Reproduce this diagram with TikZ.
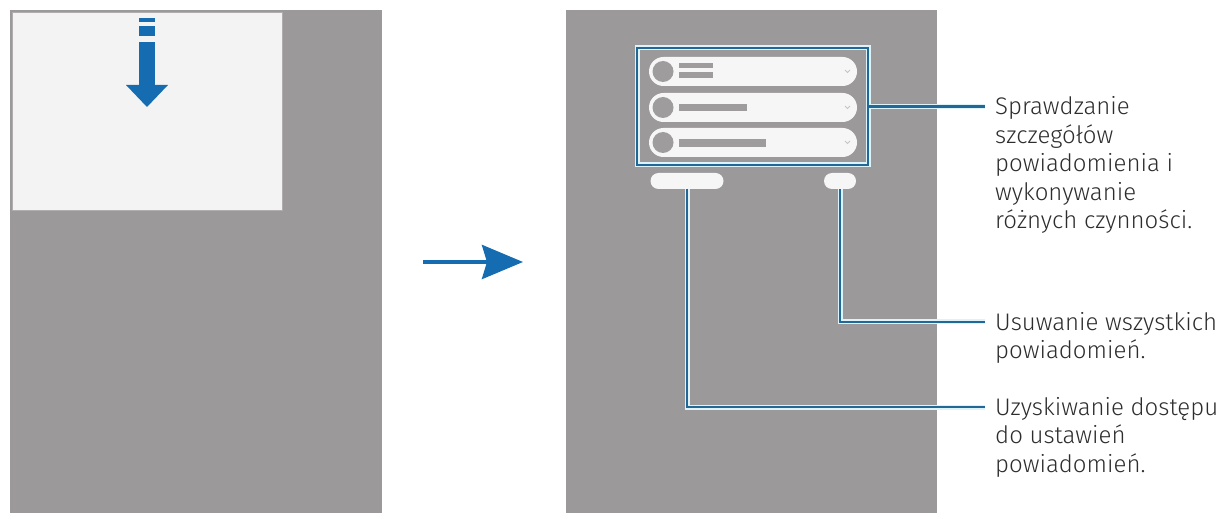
\documentclass[tikz,border=0pt]{standalone}
\usepackage{fontspec}
\setmainfont{Fira Sans Light}
\usetikzlibrary{arrows.meta}

\definecolor{screengray}{RGB}{155,153,153}
\definecolor{panelwhite}{RGB}{243,243,244}
\definecolor{pillwhite}{RGB}{246,246,246}
\definecolor{samblue}{RGB}{22,108,176}
\definecolor{linkblue}{RGB}{34,104,150}
\definecolor{halo}{RGB}{222,242,250}
\definecolor{dotgray}{RGB}{158,156,156}
\definecolor{notegray}{RGB}{45,45,45}

\begin{document}
\begin{tikzpicture}[x=1pt,y=-1pt,
    screen/.style={fill=screengray,inner sep=0pt,anchor=north west},
    pill/.style={fill=pillwhite,inner sep=0pt,rounded corners=#1},
    callout/.style={draw=halo,double=linkblue,double distance=2.4pt,line width=1.3pt},
    note/.style={anchor=north west,align=left,inner sep=0pt,text=notegray,
                 font=\fontsize{24}{28.5}\selectfont}]
   \useasboundingbox (0,0) rectangle (1229,521);

   % left screen, panel pulled down
   \node[screen,minimum width=372pt,minimum height=503pt] (scrA) at (10,10) {};
   \node[screen,fill=panelwhite,draw=screengray!80,minimum width=270pt,minimum height=198pt] (panel) at (12,12) {};
   \fill[samblue] (139,18) rectangle (155,22);
   \fill[samblue] (139,26) rectangle (155,36);
   \fill[samblue] (139,42) rectangle (155,86);
   \fill[samblue] (126,85) -- (168,85) -- (147,107) -- cycle;

   % step arrow
   \coordinate (goA) at (423,262);
   \coordinate (goB) at (523,262);
   \draw[samblue,line width=4pt,-{Stealth[length=41pt,width=34pt,inset=5pt]}] (goA) -- (goB);

   % right screen, notification panel
   \node[screen,minimum width=371pt,minimum height=503pt] (scrB) at (566,10) {};
   \node[callout,minimum width=231pt,minimum height=117pt,inner sep=0pt] (notif) at (752.5,106.5) {};
   \foreach \i/\y in {1/71.5,2/107.5,3/142.5}
    {
     \node[pill=14.5pt,minimum width=208pt,minimum height=29pt] (item\i) at (753,\y) {};
     \fill[dotgray] (663,\y) circle (10.5pt);
     \draw[pillwhite!80!black,line width=0.8pt] (845,\y-1.5) -- (847.5,\y+1) -- (850,\y-1.5);
    }
   \fill[dotgray] (679,63) rectangle (713,68);
   \fill[dotgray] (679,72) rectangle (713,78);
   \fill[dotgray] (679,104) rectangle (747,111);
   \fill[dotgray] (679,139.5) rectangle (766,147);

   \node[pill=8pt,minimum width=73pt,minimum height=16pt] (btnSet) at (687,181) {};
   \node[pill=8pt,minimum width=32pt,minimum height=16pt] (btnClr) at (840,181) {};

   % callouts
   \coordinate (tipNote) at (985,106.5);
   \coordinate (tipClr) at (985,322);
   \coordinate (tipSet) at (985,407);
   \draw[callout] (notif.east) -- (tipNote);
   \draw[callout] (btnClr.south) |- (tipClr);
   \draw[callout] (btnSet.south) |- (tipSet);

   \node[note] (noteA) at (995,96.5) {Sprawdzanie\\szczegółów\\powiadomienia i\\wykonywanie\\różnych czynności.};
   \node[note] (noteB) at (995,312) {Usuwanie wszystkich\\powiadomień.};
   \node[note] (noteC) at (995,397) {Uzyskiwanie dostępu\\do ustawień\\powiadomień.};
\end{tikzpicture}
\end{document}
